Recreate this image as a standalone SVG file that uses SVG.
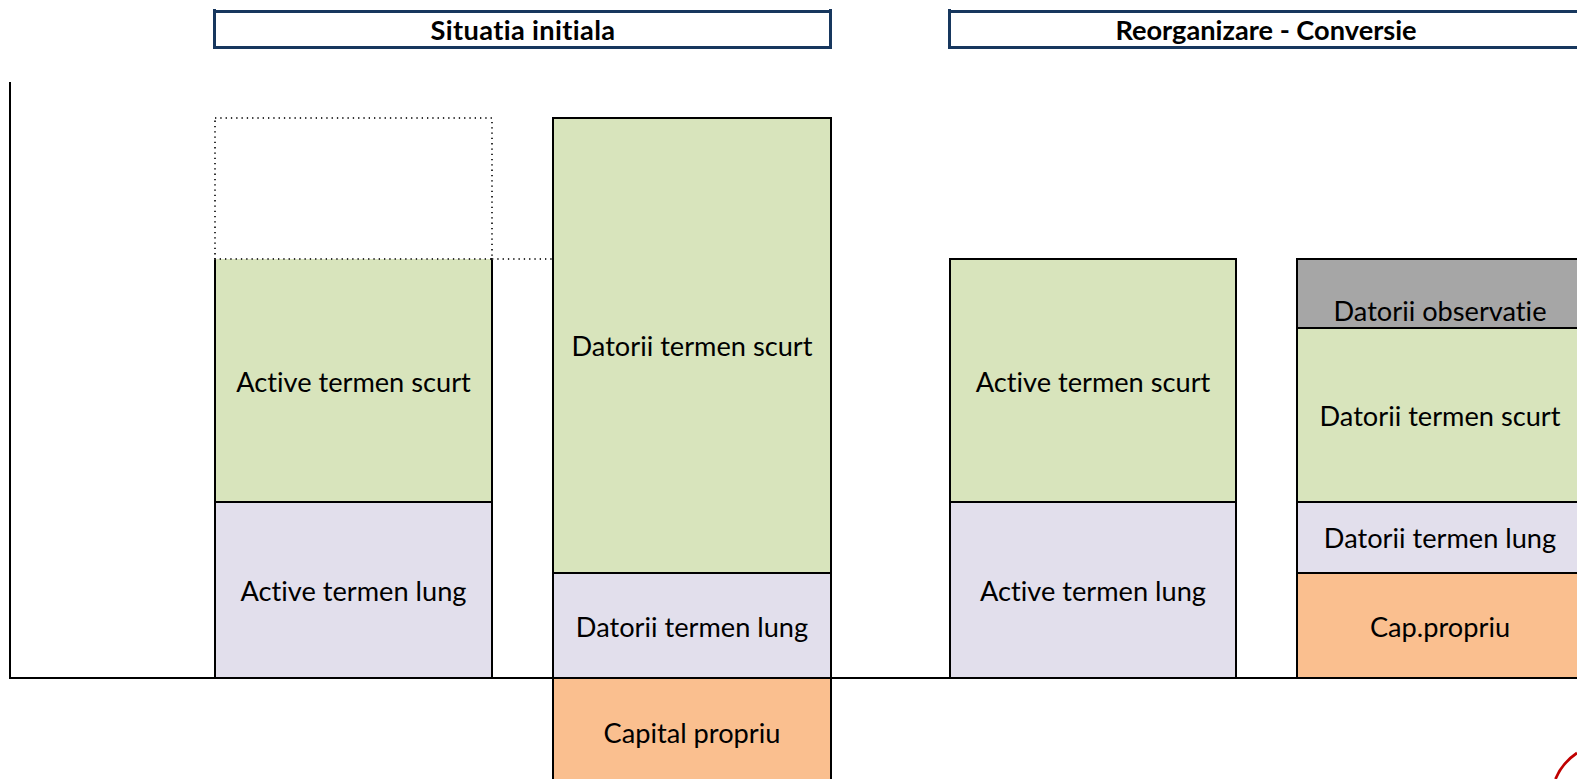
<svg xmlns="http://www.w3.org/2000/svg" width="1577" height="779" viewBox="0 0 1577 779">
<style>
.b{stroke:#000;stroke-width:2}
.g{fill:#d8e4bc}.p{fill:#e2dfec}.o{fill:#fabf8f}.y{fill:#a6a6a6}
.h{fill:#fff;stroke:#17375e;stroke-width:3}
.k{fill:none;stroke:#17375e;stroke-width:3}
text{font-family:Lato,"Liberation Sans",sans-serif;font-size:27.200px;fill:#000;text-anchor:middle;font-variant-ligatures:none}
.t{font-weight:700}
.d{fill:none;stroke:#333;stroke-width:2;stroke-dasharray:1.300 4}
</style>
<g id="header-initial"><rect class="h" x="214.500" y="11.500" width="616" height="36"/><path class="k" d="M214.500 9V12M830.500 9V12"/><text class="t" x="523" y="40" letter-spacing=".36">Situatia initiala</text></g>
<g id="header-conversie"><rect class="h" x="949.500" y="11.500" width="640" height="36"/><path class="k" d="M949.500 9V12"/><text class="t" x="1266" y="40">Reorganizare - Conversie</text></g>
<g id="a1"><rect class="g" x="215" y="259" width="277" height="243"/><path class="b" fill="none" d="M215 258V502H492V258"/><text x="353.500" y="391.500">Active termen scurt</text></g>
<g id="a2"><rect class="b p" x="215" y="502" width="277" height="176"/><text x="353.500" y="601">Active termen lung</text></g>
<g id="d1"><rect class="b g" x="553" y="118" width="278" height="455"/><text x="692" y="356">Datorii termen scurt</text></g>
<g id="d2"><rect class="b p" x="553" y="573" width="278" height="105"/><text x="692" y="637">Datorii termen lung</text></g>
<g id="c1"><rect class="b o" x="553" y="678" width="278" height="103"/><text x="692" y="743">Capital propriu</text></g>
<g id="a3"><rect class="b g" x="950" y="259" width="286" height="243"/><text x="1093" y="391.500">Active termen scurt</text></g>
<g id="a4"><rect class="b p" x="950" y="502" width="286" height="176"/><text x="1093" y="601">Active termen lung</text></g>
<g id="d3"><rect class="b y" x="1297" y="259" width="290" height="69"/><text x="1440" y="321">Datorii observatie</text></g>
<g id="d4"><rect class="b g" x="1297" y="328" width="290" height="174"/><text x="1440" y="426">Datorii termen scurt</text></g>
<g id="d5"><rect class="b p" x="1297" y="502" width="290" height="71"/><text x="1440" y="548">Datorii termen lung</text></g>
<g id="c2"><rect class="b o" x="1297" y="573" width="290" height="105"/><text x="1440" y="637">Cap.propriu</text></g>
<g id="connectors">
<path class="b" fill="none" d="M10 82V678H553M831 678H1577"/>
<path class="d" d="M215 118H492V259H215V118M492 259H553"/>
<path fill="none" stroke="#c00000" stroke-width="2.800" d="M1555.500 779C1560 768 1568 759 1577 753"/>
</g>
</svg>
